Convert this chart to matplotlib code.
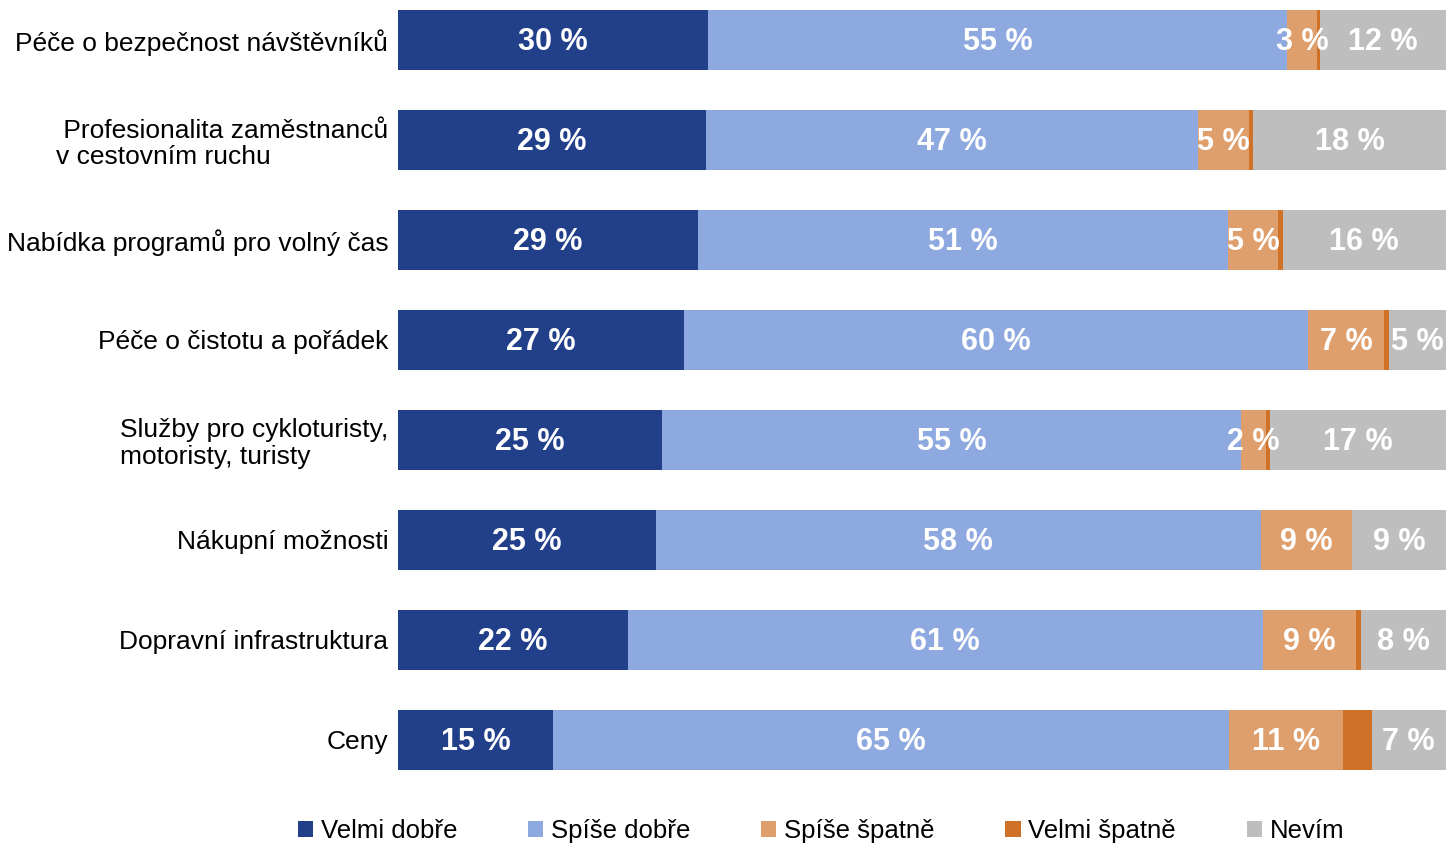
"""
Stacked horizontal bar chart - hodnocení služeb v destinaci
"""
import matplotlib
matplotlib.use('Agg')
import matplotlib.pyplot as plt
from matplotlib.patches import Patch

plt.rcParams['font.family'] = ['Liberation Sans', 'DejaVu Sans']

# Data (top to bottom)
categories = [
    'Péče o bezpečnost návštěvníků',
    ' Profesionalita zaměstnanců\nv cestovním ruchu',
    'Nabídka programů pro volný čas',
    'Péče o čistotu a pořádek',
    'Služby pro cykloturisty,\nmotoristy, turisty',
    'Nákupní možnosti',
    'Dopravní infrastruktura',
    'Ceny',
]
velmi_dobre = [29.6, 29.4, 28.6, 27.3, 25.2, 24.6, 21.9, 14.8]
spise_dobre = [55.2, 46.9, 50.6, 59.5, 55.2, 57.7, 60.6, 64.5]
spise_spatne = [2.9, 4.9, 4.8, 7.3, 2.4, 8.7, 8.9, 10.9]
velmi_spatne = [0.3, 0.4, 0.4, 0.5, 0.4, 0.0, 0.5, 2.7]
nevim = [12.0, 18.4, 15.6, 5.4, 16.8, 9.0, 8.1, 7.1]

series_names = ['Velmi dobře', 'Spíše dobře', 'Spíše špatně', 'Velmi špatně', 'Nevím']
series = [velmi_dobre, spise_dobre, spise_spatne, velmi_spatne, nevim]
colors = ['#22408A', '#8EA9DF', '#DF9F6C', '#D07128', '#BEBEBE']
show_labels = [True, True, True, False, True]

fig = plt.figure(figsize=(14.46, 8.43), dpi=100)
ax = fig.add_axes([398 / 1446, 63 / 843, 1048 / 1446, 780 / 843])

y = list(range(len(categories)))
left = [0.0] * len(categories)
for name, vals, col, lab in zip(series_names, series, colors, show_labels):
    ax.barh(y, vals, left=left, height=0.6, color=col, label=name)
    if lab:
        for i, v in enumerate(vals):
            ax.text(left[i] + v / 2, y[i] + 0.02, f'{int(v + 0.5)} %', ha='center', va='center',
                    color='white', fontsize=22, fontweight='bold')
    left = [l + v for l, v in zip(left, vals)]

ax.set_xlim(0, 100)
ax.set_ylim(7.4, -0.4)
ax.set_yticks(y)
ax.set_yticklabels(categories, fontsize=19, multialignment='left', linespacing=1.15)
ax.tick_params(axis='y', length=0, pad=7)
ax.set_xticks([])
for s in ax.spines.values():
    s.set_visible(False)

handles = [Patch(facecolor=c, edgecolor='none') for c in colors]
fig.legend(handles, series_names, loc='center', bbox_to_anchor=(821 / 1446, 12 / 843),
           ncol=5, frameon=False, fontsize=18.5, handlelength=0.6, handleheight=0.6,
           handletextpad=0.3, columnspacing=2.75, borderpad=0)

plt.savefig('out.png', dpi=100)
plt.close()
